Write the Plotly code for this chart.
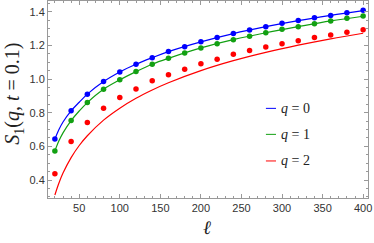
import plotly.graph_objects as go

ell = [20, 40, 60, 80, 100, 120, 140, 160, 180, 200, 220, 240, 260, 280, 300, 320, 340, 360, 380, 400]
s_q0 = [0.643, 0.811, 0.910, 0.985, 1.042, 1.088, 1.127, 1.163, 1.192, 1.221, 1.246, 1.270, 1.291, 1.311, 1.331, 1.347, 1.364, 1.378, 1.394, 1.408]
s_q1 = [0.573, 0.753, 0.860, 0.939, 0.995, 1.044, 1.088, 1.123, 1.155, 1.185, 1.210, 1.234, 1.254, 1.275, 1.295, 1.311, 1.329, 1.345, 1.361, 1.374]
s_q2 = [0.437, 0.629, 0.741, 0.827, 0.890, 0.941, 0.989, 1.026, 1.058, 1.090, 1.118, 1.147, 1.169, 1.190, 1.210, 1.228, 1.246, 1.262, 1.278, 1.293]

# curves
fit_ell = [20, 25, 30, 40, 50, 60, 80, 100, 120, 140, 160, 200, 240, 280, 320, 360, 400]
fit_q0 = [0.643, 0.700, 0.745, 0.811, 0.862, 0.910, 0.985, 1.042, 1.088, 1.127, 1.163, 1.221, 1.270, 1.311, 1.347, 1.378, 1.406]
fit_q1 = [0.573, 0.633, 0.680, 0.753, 0.810, 0.860, 0.939, 0.995, 1.044, 1.088, 1.123, 1.185, 1.234, 1.275, 1.311, 1.345, 1.373]
fit_q2 = [0.311, 0.382, 0.441, 0.533, 0.605, 0.663, 0.756, 0.827, 0.886, 0.935, 0.978, 1.050, 1.109, 1.158, 1.201, 1.239, 1.272]

labels = ["<i>q</i> = 0", "<i>q</i> = 1", "<i>q</i> = 2"]
colors = ["#0000ff", "#12a012", "#ff0000"]

fig = go.Figure()
for fy, dy, c in zip([fit_q0, fit_q1, fit_q2], [s_q0, s_q1, s_q2], colors):
    fig.add_trace(go.Scatter(x=fit_ell, y=fy, mode="lines", line=dict(color=c, width=1.2, shape="spline", smoothing=1.0),
                             showlegend=False, hoverinfo="skip"))
    fig.add_trace(go.Scatter(x=ell, y=dy, mode="markers", marker=dict(color=c, size=5.5),
                             showlegend=False))

# manual legend
leg_y = [0.455, 0.323, 0.188]
for lab, c, yy in zip(labels, colors, leg_y):
    fig.add_shape(type="line", xref="paper", yref="paper", x0=0.681, x1=0.7125, y0=yy, y1=yy,
                  line=dict(color=c, width=1))
    fig.add_annotation(xref="paper", yref="paper", x=0.7228, y=yy, text=lab, showarrow=False,
                       xanchor="left", yanchor="middle",
                       font=dict(family="Liberation Serif", size=14, color="#222"))

fig.add_annotation(xref="paper", yref="paper", x=-0.106, y=0.53, textangle=-90,
                   text="<i>S</i><sub>1</sub>(<i>q</i>, <i>t</i> = 0.1)", showarrow=False,
                   xanchor="center", yanchor="middle",
                   font=dict(family="Liberation Serif", size=20, color="#222"))
fig.add_annotation(xref="paper", yref="paper", x=0.497, y=-0.152, text="<i>ℓ</i>", showarrow=False,
                   xanchor="center", yanchor="middle",
                   font=dict(family="Liberation Serif", size=19, color="#222"))

axis_common = dict(showline=True, linecolor="#999", linewidth=1, mirror="ticks", ticks="inside",
                   tickcolor="#999", ticklen=4, showgrid=False, zeroline=False, automargin=False,
                   tickfont=dict(family="Liberation Sans", size=11, color="#333"))
fig.update_xaxes(range=[11.5, 406], tickvals=[50, 100, 150, 200, 250, 300, 350, 400],
                 minor=dict(ticks="inside", dtick=10, tick0=0, ticklen=2, tickcolor="#999", showgrid=False),
                 **axis_common)
fig.update_yaxes(range=[0.2932, 1.4635], tickvals=[0.4, 0.6, 0.8, 1.0, 1.2, 1.4],
                 ticktext=["0.4", "0.6", "0.8", "1.0", "1.2", "1.4"],
                 minor=dict(ticks="inside", dtick=0.05, tick0=0, ticklen=2, tickcolor="#999", showgrid=False),
                 **axis_common)
fig.update_layout(width=374, height=243, margin=dict(l=48, r=6, t=1, b=45),
                  paper_bgcolor="white", plot_bgcolor="white", showlegend=False)
fig.write_html("out.html", config={"displayModeBar": False},
               post_script="document.body.style.margin='0';document.body.style.overflow='hidden';")
